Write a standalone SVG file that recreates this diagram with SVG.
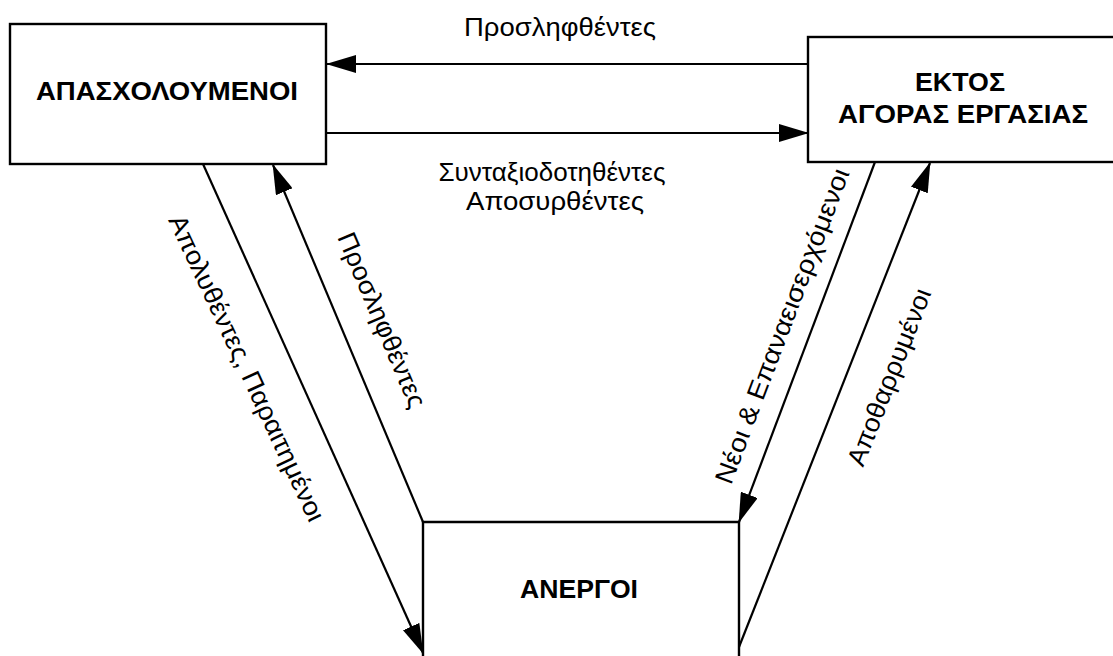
<svg xmlns="http://www.w3.org/2000/svg" width="1113" height="656" viewBox="0 0 1113 656">
  <style>
    .box { fill: #fff; stroke: #000; stroke-width: 2.4; }
    .conn { fill: none; stroke: #000; stroke-width: 2.2; marker-end: url(#arrow); }
    .bold { font-family: "Liberation Sans", Arial, sans-serif; font-weight: bold; font-size: 25px; fill: #000; text-anchor: middle; }
    .lbl { font-family: "Liberation Sans", Arial, sans-serif; font-size: 26px; fill: #000; text-anchor: middle; }
  </style>
  <defs>
    <marker id="arrow" viewBox="0 0 30 18" markerWidth="30" markerHeight="18" refX="29" refY="9" orient="auto" markerUnits="userSpaceOnUse">
      <path d="M0,0 L30,9 L0,18 Z" fill="#000"/>
    </marker>
  </defs>
  <rect width="1113" height="656" fill="#fff"/>

  <g id="employed">
    <rect class="box" x="10" y="24" width="316" height="140"/>
    <text class="bold" x="167" y="100" textLength="262" lengthAdjust="spacingAndGlyphs">ΑΠΑΣΧΟΛΟΥΜΕΝΟΙ</text>
  </g>

  <g id="outside">
    <rect class="box" x="808" y="37" width="330" height="125"/>
    <text class="bold" x="960" y="91" textLength="90" lengthAdjust="spacingAndGlyphs">ΕΚΤΟΣ</text>
    <text class="bold" x="963" y="123" textLength="250" lengthAdjust="spacingAndGlyphs">ΑΓΟΡΑΣ ΕΡΓΑΣΙΑΣ</text>
  </g>

  <g id="unemployed">
    <path d="M423,660 V522 H739 V660" fill="#fff" stroke="#000" stroke-width="2.4"/>
    <text class="bold" x="579" y="598" textLength="118" lengthAdjust="spacingAndGlyphs">ΑΝΕΡΓΟΙ</text>
  </g>

  <g id="connectors">
    <line class="conn" x1="808" y1="64" x2="327" y2="64"/>
    <line class="conn" x1="327" y1="133" x2="808" y2="133"/>
    <line class="conn" x1="203" y1="164" x2="423" y2="653"/>
    <line class="conn" x1="423" y1="522" x2="273" y2="165"/>
    <line class="conn" x1="875" y1="162" x2="739" y2="522"/>
    <line class="conn" x1="739" y1="647" x2="930" y2="163"/>

    <text class="lbl" x="560" y="36" textLength="192" lengthAdjust="spacingAndGlyphs">Προσληφθέντες</text>
    <text class="lbl" x="552" y="181" textLength="227" lengthAdjust="spacingAndGlyphs">Συνταξιοδοτηθέντες</text>
    <text class="lbl" x="555" y="210" textLength="178" lengthAdjust="spacingAndGlyphs">Αποσυρθέντες</text>

    <g transform="translate(247,368) rotate(65)">
      <text class="lbl" x="0" y="9" textLength="335" lengthAdjust="spacingAndGlyphs">Απολυθέντες, Παραιτημένοι</text>
    </g>
    <g transform="translate(382,320) rotate(67)">
      <text class="lbl" x="0" y="9" textLength="188" lengthAdjust="spacingAndGlyphs">Προσληφθέντες</text>
    </g>
    <g transform="translate(782,326) rotate(-69.2)">
      <text class="lbl" x="0" y="9" textLength="335" lengthAdjust="spacingAndGlyphs">Νέοι &amp; Επαναεισερχόμενοι</text>
    </g>
    <g transform="translate(889,377) rotate(-68.6)">
      <text class="lbl" x="0" y="9" textLength="188" lengthAdjust="spacingAndGlyphs">Αποθαρρυμένοι</text>
    </g>
  </g>
</svg>
